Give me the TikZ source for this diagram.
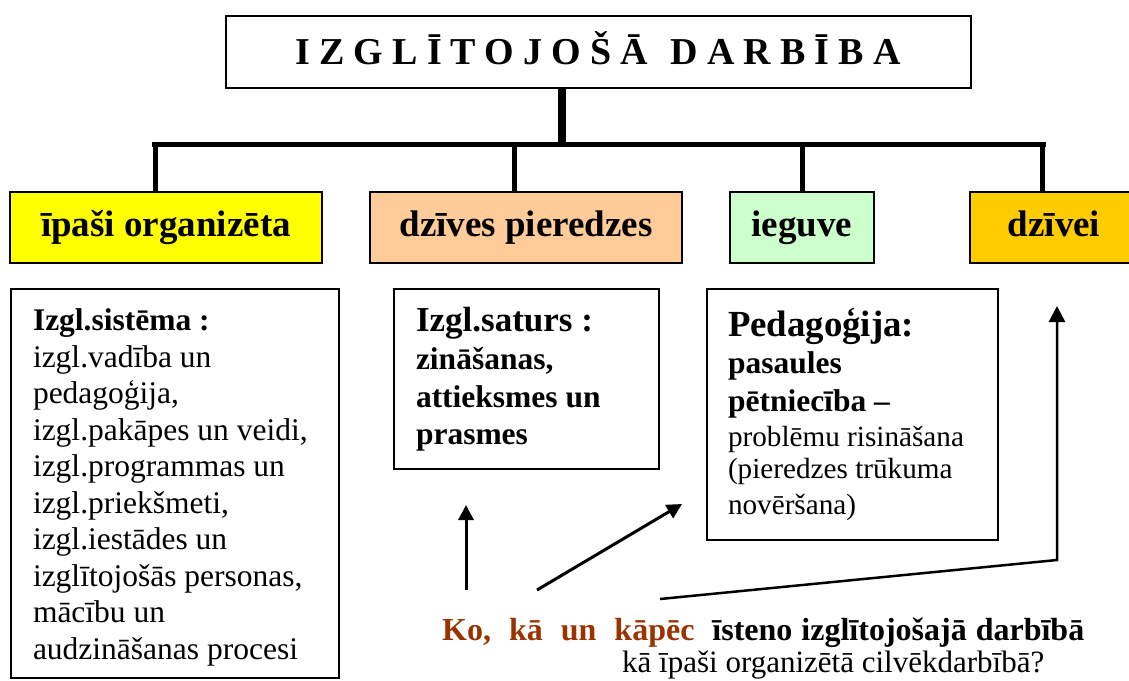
\documentclass[tikz,border=0pt]{standalone}
\usepackage{fontspec}
\setmainfont{Liberation Serif}
\usepackage{xcolor}
\usetikzlibrary{arrows.meta}
\definecolor{orgfill}{HTML}{FFFF00}
\definecolor{pierfill}{HTML}{FFCC99}
\definecolor{iegfill}{HTML}{CCFFCC}
\definecolor{dzivfill}{HTML}{FFCC00}
\definecolor{askbrown}{HTML}{993300}
\tikzstyle{pointer} = [-{Triangle[length=15pt,width=15pt]}, line width=3pt]

\begin{document}
\begin{tikzpicture}[x=1pt,y=-1pt]
    \tikzstyle{head}=[draw,line width=2.5pt,minimum height=71pt,inner sep=0pt,%
      font=\fontsize{37}{40}\selectfont\bfseries,text height=25pt,text depth=8pt]
    \tikzstyle{info}=[draw,line width=2pt,anchor=north west,align=left,inner ysep=0pt,%
      font=\fontsize{31.5}{36.5}\selectfont]
    \tikzstyle{drop}=[line width=5pt]
    \path[use as bounding box] (0,0) rectangle (1129,680);
    \clip (0,0) rectangle (1129,680);
    % title and tree
    \node[draw,line width=2pt,minimum width=745pt,minimum height=72pt,inner sep=0pt,%
      text height=25pt,text depth=0pt] (title) at (598,52)
      {\fontsize{38}{40}\selectfont\bfseries\addfontfeature{LetterSpace=24}IZGLĪTOJOŠĀ\hspace{4pt} DARBĪBA};
    \coordinate (bar) at (598,144.5);
    \draw[line width=8pt] ([xshift=-36]title.south) -- ([xshift=-36]title.south |- bar);
    \draw[drop] (152,144.5) -- (1046,144.5);
    \node[head,fill=orgfill,minimum width=312pt] (org) at (166,227.5) {īpaši organizēta};
    \node[head,fill=pierfill,minimum width=312pt] (pier) at (526,227.5) {dzīves pieredzes};
    \node[head,fill=iegfill,minimum width=144pt] (ieg) at (802,227.5) {ieguve};
    \node[head,fill=dzivfill,minimum width=168pt] (dziv) at (1054,227.5) {dzīvei};
    \foreach \n/\d in {org/-11,pier/-12,ieg/0,dziv/-12}
      \draw[drop] ([xshift=\d]\n.north) -- ([xshift=\d]\n.north |- bar);
    % content boxes
    \node[info,inner xsep=22pt,text width=284pt,minimum height=389pt] (sist) at (10,288)
      {\spaceskip=0pt\rule{0pt}{30pt}\bfseries Izgl.sistēma :\\
       \mdseries izgl.vadība un\\
       pedagoģija,\\
       izgl.pakāpes un veidi,\\
       izgl.programmas un\\
       izgl.priekšmeti,\\
       izgl.iestādes un\\
       izglītojošās personas,\\
       mācību un\\
       audzināšanas procesi};
    \node[info,inner xsep=22pt,text width=221pt,minimum height=180pt] (saturs) at (393,288)
      {\spaceskip=0pt\fontsize{35}{37}\selectfont\bfseries Izgl.saturs :\\
       \fontsize{31.5}{38}\selectfont zināšanas,\\
       attieksmes un\\
       \fontsize{31.5}{36}\selectfont prasmes};
    \node[info,inner xsep=21pt,text width=249pt,minimum height=251pt] (ped) at (706,288)
      {\spaceskip=0pt\fontsize{36.8}{40}\selectfont\bfseries Pedagoģija:\\
       \fontsize{31.5}{37}\selectfont pasaules\\
       \fontsize{31.5}{38}\selectfont pētniecība --\\
       \fontsize{29.2}{35}\selectfont\mdseries problēmu risināšana\\
       \fontsize{29.2}{32}\selectfont (pieredzes trūkuma\\
       novēršana)};
    % question
    \node[anchor=base west,inner sep=0pt,font=\fontsize{32}{36}\selectfont\bfseries] (ask) at (442,640)
      {\spaceskip=9pt\textcolor{askbrown}{Ko,\ \ kā\ \ un\ \ kāpēc}\ \ īsteno izglītojošajā darbībā};
    \node[anchor=base west,inner sep=0pt,font=\fontsize{31}{34}\selectfont] (how) at (622,672)
      {kā īpaši organizētā cilvēkdarbībā?};
    \coordinate (from1) at (466,590);
    \coordinate (to1) at (466,505);
    \coordinate (from2) at (537,590);
    \coordinate (to2) at (682,504);
    \coordinate (from3) at (660,599);
    \coordinate (bend3) at (1057,560);
    \coordinate (to3) at (1057,306);
    \draw[pointer] (from1) -- (to1);
    \draw[pointer] (from2) -- (to2);
    \draw[pointer,line width=2.5pt,-{Triangle[length=16pt,width=16pt]}] (from3) -- (bend3) -- (to3);
\end{tikzpicture}
\end{document}
